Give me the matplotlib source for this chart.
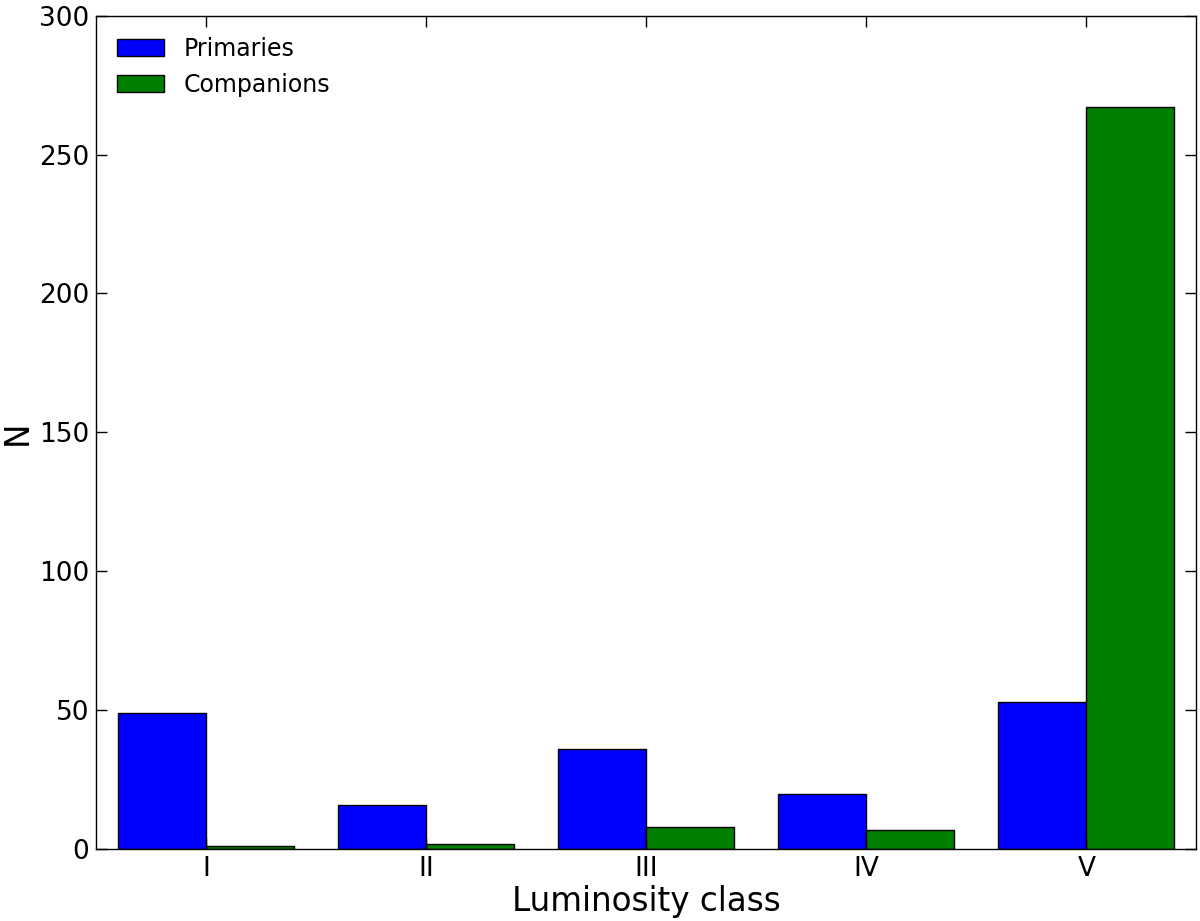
import matplotlib
matplotlib.use("Agg")
import matplotlib.pyplot as plt
import numpy as np

classes = ["I", "II", "III", "IV", "V"]
primaries = [49, 16, 36, 20, 53]
companions = [1, 2, 8, 7, 267]

fig, ax = plt.subplots(figsize=(12, 9.21), dpi=100)
fig.subplots_adjust(left=0.08, right=0.997, top=0.983, bottom=0.078)

x = np.arange(len(classes))
w = 0.4
ax.bar(x, primaries, width=-w, align="edge", color="#0000ff",
       edgecolor="black", linewidth=1, label="Primaries")
ax.bar(x, companions, width=w, align="edge", color="#008000",
       edgecolor="black", linewidth=1, label="Companions")

ax.set_xlim(-0.5, 4.5)
ax.set_ylim(0, 300)
ax.set_xticks(x)
ax.set_xticklabels(classes)
ax.set_yticks(np.arange(0, 301, 50))
ax.tick_params(direction="in", length=8, width=1, labelsize=19,
               top=True, right=True, pad=5)
ax.set_xlabel("Luminosity class", fontsize=23.5, labelpad=2)
ax.set_ylabel("N", fontsize=23.5, labelpad=4)

for spine in ax.spines.values():
    spine.set_linewidth(1)

ax.legend(loc="upper left", frameon=False, fontsize=17, handlelength=2.0)

plt.savefig("out.png", dpi=100)
plt.close()
